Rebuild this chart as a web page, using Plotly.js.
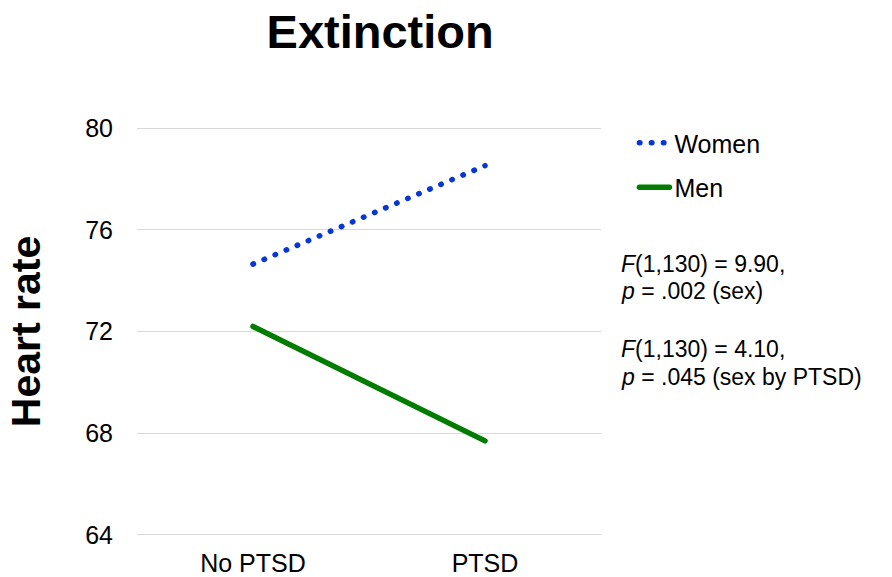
<!DOCTYPE html>
<html>
<head>
<meta charset="utf-8">
<script src="https://cdn.plot.ly/plotly-3.0.1.min.js"></script>
<style>
  html, body { margin: 0; padding: 0; background: #fff; }
  #chart { width: 892px; height: 577px; }
  .scatterlayer .js-line, .legend .js-line { stroke-linecap: round; }
</style>
</head>
<body>
<div id="chart"></div>
<script>
const categories = ["No PTSD", "PTSD"];
const seriesNames = ["Women", "Men"];
const women = [74.65, 78.52];
const men = [72.20, 67.70];
const yTicks = [64, 68, 72, 76, 80];
const titleText = "Extinction";
const yTitle = "Heart rate";
const statLines = [
  "<i>F</i>(1,130) = 9.90,",
  "<i>p</i> = .002 (sex)",
  "<i>F</i>(1,130) = 4.10,",
  "<i>p</i> = .045 (sex by PTSD)"
];
const statY = [0.665, 0.599, 0.457, 0.389];

const FONT = "Liberation Sans, Arial, Helvetica, sans-serif";

const traces = [
  {
    x: categories, y: women, name: seriesNames[0], type: "scatter", mode: "lines",
    line: { color: "#0636d6", width: 5.5, dash: "0.5px,11.5px" },
    legendgroup: "w"
  },
  {
    x: categories, y: men, name: seriesNames[1], type: "scatter", mode: "lines",
    line: { color: "#007d00", width: 5.5 },
    legendgroup: "m"
  }
];

const annotations = statLines.map((t, i) => ({
  text: t, xref: "paper", yref: "paper", x: 1.039, y: statY[i],
  xanchor: "left", yanchor: "middle", align: "left", showarrow: false,
  font: { family: FONT, size: 23, color: "#000" }
}));

const layout = {
  width: 892, height: 577,
  margin: { l: 137, r: 291, t: 127, b: 41 },
  paper_bgcolor: "#fff", plot_bgcolor: "#fff",
  font: { family: FONT, color: "#000" },
  title: {
    text: "<b>" + titleText + "</b>",
    font: { family: FONT, size: 47, color: "#000" },
    xref: "paper", x: 0.524, xanchor: "center",
    yref: "container", y: 0.946, yanchor: "middle"
  },
  xaxis: {
    type: "category", range: [-0.5, 1.5],
    showgrid: false, zeroline: false, showline: false, ticks: "",
    tickfont: { family: FONT, size: 25, color: "#000" },
    ticklabelstandoff: 10
  },
  yaxis: {
    range: [63.96, 80.04], tickvals: yTicks,
    showgrid: true, gridcolor: "#d9d9d9", gridwidth: 1,
    zeroline: false, showline: false, ticks: "",
    tickfont: { family: FONT, size: 25, color: "#000" },
    ticklabelstandoff: 23,
    title: { text: "<b>" + yTitle + "</b>", font: { family: FONT, size: 41, color: "#000" }, standoff: 31 }
  },
  showlegend: true,
  legend: {
    x: 1.072, xanchor: "left", y: 1.017, yanchor: "top",
    font: { family: FONT, size: 25, color: "#000" },
    tracegroupgap: 9, bgcolor: "rgba(0,0,0,0)"
  },
  annotations: annotations
};

Plotly.newPlot("chart", traces, layout, { displayModeBar: false, staticPlot: true });
</script>
</body>
</html>
